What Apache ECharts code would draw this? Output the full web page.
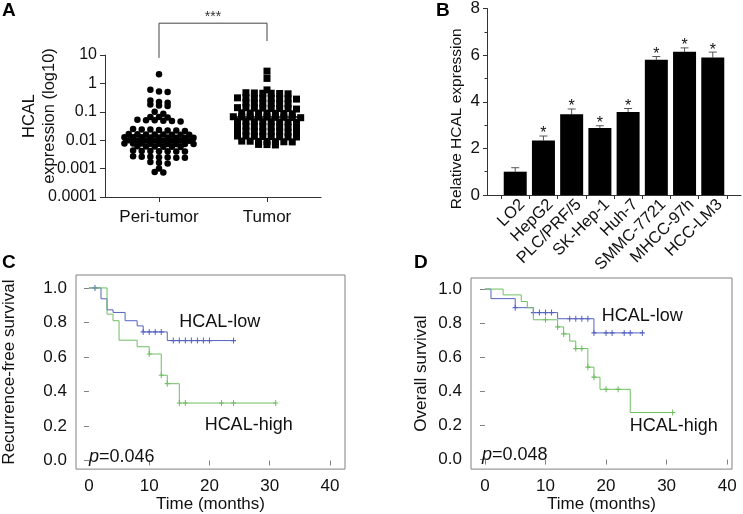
<!DOCTYPE html>
<html>
<head>
<meta charset="utf-8">
<script src="https://cdn.jsdelivr.net/npm/echarts@6/dist/echarts.min.js"></script>
<style>
html, body { margin: 0; padding: 0; background: #fff; }
#main { width: 743px; height: 514px; }
</style>
</head>
<body>
<div id="main"></div>
<script>
// ---- panel A: HCAL expression, log10 scatter dot plot
var groups = ['Peri-tumor', 'Tumor'];
var logTickLabels = ['0.0001', '0.001', '0.01', '0.1', '1', '10'];
var periValues = [
  2.1,
  0.6, 0.52, 0.5,
  0.25, 0.22, 0.21,
  0.18, 0.165, 0.16,
  0.1, 0.085,
  0.066, 0.065, 0.063,
  0.052, 0.05, 0.05, 0.048, 0.047, 0.046,
  0.025, 0.024, 0.024, 0.023, 0.022, 0.022, 0.021,
  0.0165, 0.0163, 0.016, 0.016, 0.0158, 0.0157, 0.0156, 0.0155,
  0.0128, 0.0127, 0.0126, 0.0125, 0.0124, 0.0124, 0.0123, 0.0122, 0.0122,
  0.0099, 0.0098, 0.0098, 0.0097, 0.0096, 0.0096, 0.0095, 0.0095,
  0.0077, 0.0076, 0.0076, 0.0075, 0.0075, 0.0074, 0.0074, 0.0073, 0.0073,
  0.0061, 0.006, 0.006, 0.0059, 0.0059, 0.0058,
  0.0043, 0.0042, 0.0042, 0.0041, 0.0041, 0.004, 0.004,
  0.0027, 0.0026, 0.0026, 0.0025, 0.0025, 0.0024, 0.0024,
  0.0017, 0.0016, 0.0015,
  0.001,
  0.00076, 0.00073
];
var tumorValues = [
  2.7, 1.5,
  0.59,
  0.47, 0.46, 0.45, 0.45, 0.44, 0.43,
  0.31, 0.31, 0.3, 0.3, 0.3, 0.29, 0.29, 0.28,
  0.21, 0.2, 0.2, 0.2, 0.19, 0.19,
  0.14, 0.14, 0.135, 0.135, 0.13, 0.13, 0.13, 0.125,
  0.092, 0.09, 0.09, 0.089, 0.088, 0.087, 0.085,
  0.067, 0.066, 0.066, 0.065, 0.065, 0.064, 0.064, 0.063, 0.062,
  0.046, 0.046, 0.045, 0.045, 0.045, 0.044, 0.044, 0.043,
  0.031, 0.031, 0.03, 0.03, 0.03, 0.029, 0.029, 0.028,
  0.021, 0.021, 0.02, 0.02, 0.02, 0.02, 0.019, 0.019,
  0.014, 0.014, 0.0137, 0.0135, 0.0134, 0.0132, 0.013, 0.013,
  0.0093, 0.0092, 0.009, 0.009, 0.0089, 0.0088, 0.0087,
  0.0071, 0.007, 0.0068
];
var medians = [0.01, 0.065];
var sigLegs = [7.9, 31];   // bottom of bracket legs
var sigTop = 132;          // bracket height
var sigText = '***';

// ---- panel B: relative HCAL expression in cell lines
var cellLines = ['LO2', 'HepG2', 'PLC/PRF/5', 'SK-Hep-1', 'Huh-7', 'SMMC-7721', 'MHCC-97h', 'HCC-LM3'];
var relExpr = [1.0, 2.34, 3.46, 2.87, 3.56, 5.8, 6.14, 5.9];
var relSD = [0.17, 0.19, 0.23, 0.1, 0.15, 0.14, 0.17, 0.23];
var relSig = [0, 1, 1, 1, 1, 1, 1, 1];

// ---- panel C: recurrence-free survival
var rfsLowTime = [0, 2, 3, 4, 6, 8, 9, 13, 24];
var rfsLowSurv = [1, 0.937, 0.873, 0.858, 0.81, 0.78, 0.745, 0.695, 0.695];
var rfsLowCensor = [1, 9, 10, 11, 12, 14, 15, 16, 17, 18, 19, 20, 24];
var rfsHighTime = [0, 3, 4, 5, 8, 10, 12, 13, 15, 31];
var rfsHighSurv = [1, 0.848, 0.81, 0.697, 0.659, 0.617, 0.494, 0.445, 0.333, 0.333];
var rfsHighCensor = [10, 12, 13, 15, 16, 22, 24, 31];

// ---- panel D: overall survival
var osLowTime = [0, 1, 5, 8, 12, 18, 26];
var osLowSurv = [1, 0.944, 0.891, 0.862, 0.826, 0.743, 0.743];
var osLowCensor = [5, 8, 9, 10, 11, 14, 15, 16, 17, 18, 20, 21, 23, 24, 26];
var osHighTime = [0, 3, 6, 7, 8, 12, 13, 14, 15, 17, 18, 19, 24, 31];
var osHighSurv = [1, 0.966, 0.927, 0.891, 0.82, 0.778, 0.737, 0.695, 0.651, 0.542, 0.483, 0.412, 0.276, 0.276];
var osHighCensor = [10, 12, 13, 15, 16, 17, 18, 20, 22, 31];
var pValues = ['0.046', '0.048'];
var monthTicks = [0, 10, 20, 30, 40];
var survTicks = [0, 0.2, 0.4, 0.6, 0.8, 1.0];

var FONT = '"Liberation Sans", Arial, sans-serif';
var BLUE = '#5563c2';
var GREEN = '#6dbf5f';
var BOX = '#808080';
var INK = '#111';
var PLUS = 'path://M2,0H3V5H2Z M0,2H5V3H0Z';

// rows of equal height (log10 units), points spread symmetrically like a dot plot
function dotPlot(values, center, step, rowH) {
  var sorted = values.slice().sort(function(a, b) { return b - a; });
  var rows = [], cur = null;
  sorted.forEach(function(v) {
    var lv = Math.log10(v);
    if (!cur || cur.start - lv > rowH) {
      cur = { start: lv, vals: [] };
      rows.push(cur);
    }
    cur.vals.push(v);
  });
  var out = [];
  rows.forEach(function(r) {
    var n = r.vals.length;
    r.vals.forEach(function(v, i) {
      out.push([center + (i - (n - 1) / 2) * step, v]);
    });
  });
  return out;
}

function steps(times, surv) {
  return times.map(function(t, i) { return [t, surv[i]]; });
}

function censorPoints(cens, times, surv) {
  return cens.map(function(t) {
    var s = surv[0];
    for (var i = 0; i < times.length; i++) { if (times[i] <= t) s = surv[i]; }
    return [t, s];
  });
}

var myChart = echarts.init(document.getElementById('main'));

function kmXAxis(gi, min, max) {
  return {
    type: 'value', gridIndex: gi, min: min, max: max,
    axisLine: { show: false }, splitLine: { show: false },
    axisTick: { show: true, customValues: monthTicks, length: 5, lineStyle: { color: BOX } },
    axisLabel: { customValues: monthTicks, fontSize: 17, color: INK, margin: 9 },
    name: 'Time (months)', nameLocation: 'middle', nameGap: 23,
    nameTextStyle: { fontSize: 17, color: INK }
  };
}
function kmYAxis(gi, min, max, name, gap) {
  return {
    type: 'value', gridIndex: gi, min: min, max: max,
    axisLine: { show: false }, splitLine: { show: false },
    axisTick: { show: true, customValues: survTicks, length: 5, lineStyle: { color: BOX } },
    axisLabel: { customValues: survTicks, fontSize: 17, color: INK, margin: 9,
      formatter: function(v) { return v.toFixed(1); } },
    name: name, nameLocation: 'middle', nameGap: gap, nameMoveOverlap: false,
    nameTextStyle: { fontSize: 17, color: INK }
  };
}
function kmLine(gi, data, color) {
  return { type: 'line', xAxisIndex: gi, yAxisIndex: gi, step: 'end', data: data,
    symbol: 'none', lineStyle: { color: color, width: 1 } };
}
function kmCensor(gi, data, color) {
  return { type: 'scatter', xAxisIndex: gi, yAxisIndex: gi, data: data,
    symbol: PLUS, symbolSize: [5, 6], itemStyle: { color: color, opacity: 1 } };
}
function kmText(gi, x, y, text, isP) {
  return { type: 'scatter', xAxisIndex: gi, yAxisIndex: gi, data: [[x, y]], symbolSize: 0,
    silent: true, itemStyle: { opacity: 1 },
    label: { show: true, position: 'right', distance: 0, fontSize: 18, color: INK,
      formatter: isP ? '{it|p}=' + text : text,
      rich: { it: { fontStyle: 'italic', fontSize: 18, color: INK } } } };
}

var bracket = [[1, sigLegs[0]], [1, sigTop], [2, sigTop], [2, sigLegs[1]]];

var option = {
  animation: false,
  textStyle: { fontFamily: FONT },
  title: [
    { text: 'A', left: 2, top: 1, padding: 0, textStyle: { fontSize: 19, fontWeight: 'bold', fontFamily: FONT, color: '#000' } },
    { text: 'B', left: 436, top: 1, padding: 0, textStyle: { fontSize: 19, fontWeight: 'bold', fontFamily: FONT, color: '#000' } },
    { text: 'C', left: 2, top: 253, padding: 0, textStyle: { fontSize: 19, fontWeight: 'bold', fontFamily: FONT, color: '#000' } },
    { text: 'D', left: 414, top: 253, padding: 0, textStyle: { fontSize: 19, fontWeight: 'bold', fontFamily: FONT, color: '#000' } }
  ],
  grid: [
    { left: 105, top: 55, width: 216, height: 142 },
    { left: 487, top: 8, width: 254, height: 187 },
    { left: 75, top: 275, width: 270, height: 198, show: true, borderColor: BOX, borderWidth: 1 },
    { left: 471, top: 278, width: 261, height: 195, show: true, borderColor: BOX, borderWidth: 1 }
  ],
  xAxis: [
    {
      type: 'value', gridIndex: 0, min: 0.5, max: 2.5,
      axisLine: { lineStyle: { color: '#333' } }, splitLine: { show: false },
      axisTick: { customValues: [1, 2], length: 5, lineStyle: { color: '#333' } },
      axisLabel: { customValues: [1, 2], fontSize: 17, color: INK, margin: 12,
        formatter: function(v) { return groups[Math.round(v) - 1]; } }
    },
    {
      type: 'value', gridIndex: 1, min: 0, max: 9,
      axisLine: { lineStyle: { color: '#333' } }, splitLine: { show: false },
      axisTick: { customValues: [0.5, 1.5, 2.5, 3.5, 4.5, 5.5, 6.5, 7.5, 8.5], length: 4, lineStyle: { color: '#333' } },
      // labels sit a little right of the bar centre, as in the original figure
      axisLabel: { customValues: [1.25, 2.25, 3.25, 4.25, 5.25, 6.25, 7.25, 8.25], rotate: 45, fontSize: 16.5, color: INK, margin: 7,
        formatter: function(v) { return cellLines[Math.round(v) - 1]; } }
    },
    kmXAxis(2, -2.15, 42.5),
    kmXAxis(3, -2.3, 40.8)
  ],
  yAxis: [
    {
      type: 'log', logBase: 10, gridIndex: 0, min: 0.0001, max: 10,
      axisLine: { show: true, lineStyle: { color: '#333' } }, splitLine: { show: false },
      axisTick: { show: true, length: 5, lineStyle: { color: '#333' } },
      axisLabel: { fontSize: 16, color: INK, margin: 8,
        formatter: function(v) { return logTickLabels[Math.round(Math.log10(v)) + 4]; } },
      name: 'HCAL\nexpression (log10)', nameLocation: 'middle', nameGap: 46, nameMoveOverlap: false,
      nameTextStyle: { fontSize: 16.5, color: INK, lineHeight: 20, padding: [0, 0, 0, 20] }
    },
    {
      type: 'value', gridIndex: 1, min: 0, max: 8, interval: 2,
      axisLine: { show: true, lineStyle: { color: '#333' } }, splitLine: { show: false },
      axisTick: { show: true, length: 4, lineStyle: { color: '#333' } },
      minorTick: { show: true, splitNumber: 2, length: 2.5, lineStyle: { color: '#333' } },
      axisLabel: { fontSize: 17, color: INK, margin: 7 },
      name: 'Relative HCAL expression', nameLocation: 'middle', nameGap: 22, nameMoveOverlap: false,
      nameTextStyle: { fontSize: 15.5, color: INK, padding: [0, 34, 0, 0] }
    },
    kmYAxis(2, -0.05, 1.075, 'Recurrence-free survival', 58),
    kmYAxis(3, -0.056, 1.065, 'Overall survival', 41)
  ],
  series: [
    // A
    { type: 'scatter', xAxisIndex: 0, yAxisIndex: 0, data: dotPlot(periValues, 1, 0.08, 0.085),
      symbol: 'circle', symbolSize: 6.5, itemStyle: { color: '#000', opacity: 1 } },
    { type: 'scatter', xAxisIndex: 0, yAxisIndex: 0, data: dotPlot(tumorValues, 2, 0.078, 0.085),
      symbol: 'rect', symbolSize: 7, itemStyle: { color: '#000', opacity: 1 } },
    { type: 'line', xAxisIndex: 0, yAxisIndex: 0, data: [[1 - 0.33, medians[0]], [1 + 0.34, medians[0]]],
      symbol: 'none', lineStyle: { color: '#000', width: 1.5 } },
    { type: 'line', xAxisIndex: 0, yAxisIndex: 0, data: [[2 - 0.31, medians[1]], [2 + 0.33, medians[1]]],
      symbol: 'none', lineStyle: { color: '#000', width: 1.5 } },
    { type: 'line', xAxisIndex: 0, yAxisIndex: 0, data: bracket, clip: false,
      symbol: 'none', lineStyle: { color: '#444', width: 1 } },
    { type: 'scatter', xAxisIndex: 0, yAxisIndex: 0, data: [[1.5, sigTop]], clip: false, symbolSize: 0,
      itemStyle: { opacity: 1 },
      label: { show: true, position: 'top', distance: -1, formatter: sigText, fontSize: 14, color: '#333' } },
    // B
    { type: 'bar', xAxisIndex: 1, yAxisIndex: 1, barWidth: 23,
      data: relExpr.map(function(v, i) { return [i + 1, v]; }), itemStyle: { color: '#000' } },
    { type: 'custom', xAxisIndex: 1, yAxisIndex: 1,
      data: relExpr.map(function(v, i) { return [i + 1, v, v + relSD[i]]; }),
      renderItem: function(params, api) {
        var p1 = api.coord([api.value(0), api.value(1)]);
        var p2 = api.coord([api.value(0), api.value(2)]);
        var st = { stroke: '#555', lineWidth: 1 };
        return { type: 'group', children: [
          { type: 'line', shape: { x1: p1[0], y1: p1[1], x2: p2[0], y2: p2[1] }, style: st },
          { type: 'line', shape: { x1: p2[0] - 4, y1: p2[1], x2: p2[0] + 4, y2: p2[1] }, style: st }
        ] };
      } },
    { type: 'scatter', xAxisIndex: 1, yAxisIndex: 1, symbolSize: 0, itemStyle: { opacity: 1 },
      data: relExpr.map(function(v, i) { return relSig[i] ? [i + 1, v + relSD[i]] : null; })
        .filter(function(d) { return d; }),
      label: { show: true, position: 'top', distance: -6, formatter: '*', fontSize: 16, color: INK } },
    // C
    kmLine(2, steps(rfsLowTime, rfsLowSurv), BLUE),
    kmLine(2, steps(rfsHighTime, rfsHighSurv), GREEN),
    kmCensor(2, censorPoints(rfsLowCensor, rfsLowTime, rfsLowSurv), BLUE),
    kmCensor(2, censorPoints(rfsHighCensor, rfsHighTime, rfsHighSurv), GREEN),
    kmText(2, 15, 0.8, 'HCAL-low'),
    kmText(2, 19.2, 0.205, 'HCAL-high'),
    kmText(2, 0, 0.02, pValues[0], true),
    // D
    kmLine(3, steps(osLowTime, osLowSurv), BLUE),
    kmLine(3, steps(osHighTime, osHighSurv), GREEN),
    kmCensor(3, censorPoints(osLowCensor, osLowTime, osLowSurv), BLUE),
    kmCensor(3, censorPoints(osHighCensor, osHighTime, osHighSurv), GREEN),
    kmText(3, 19.3, 0.84, 'HCAL-low'),
    kmText(3, 23.9, 0.197, 'HCAL-high'),
    kmText(3, -0.5, 0.025, pValues[1], true)
  ]
};
myChart.setOption(option);
</script>
</body>
</html>
